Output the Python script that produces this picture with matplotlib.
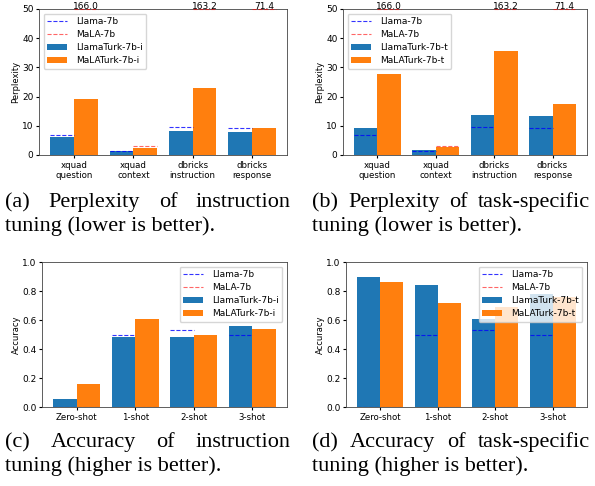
import matplotlib
matplotlib.use("Agg")
import matplotlib.pyplot as plt
import numpy as np

W, H = 595, 486

ppl_categories = ["xquad\nquestion", "xquad\ncontext", "dbricks\ninstruction", "dbricks\nresponse"]
acc_categories = ["Zero-shot", "1-shot", "2-shot", "3-shot"]

llama_ppl = [6.8, 1.5, 9.6, 9.1]
mala_ppl = [166.0, 3.0, 163.2, 71.4]
llamaturk_i_ppl = [6.3, 1.5, 8.3, 7.9]
malaturk_i_ppl = [19.3, 2.3, 22.8, 9.1]
llamaturk_t_ppl = [9.2, 1.6, 13.7, 13.2]
malaturk_t_ppl = [27.7, 2.6, 35.6, 17.6]

llama_acc = [0.0, 0.50, 0.53, 0.50]
mala_acc = [0.0, 0.0, 0.0, 0.0]
llamaturk_i_acc = [0.055, 0.48, 0.48, 0.56]
malaturk_i_acc = [0.16, 0.61, 0.50, 0.54]
llamaturk_t_acc = [0.90, 0.84, 0.61, 0.78]
malaturk_t_acc = [0.86, 0.72, 0.69, 0.76]

captions = [
    ("(a) Perplexity of instruction", "tuning (lower is better)."),
    ("(b) Perplexity of task-specific", "tuning (lower is better)."),
    ("(c) Accuracy of instruction", "tuning (higher is better)."),
    ("(d) Accuracy of task-specific", "tuning (higher is better)."),
]

fig = plt.figure(figsize=(W / 100, H / 100), dpi=100)


def px_axes(l, r, t, b):
    return fig.add_axes([l / W, 1 - b / H, (r - l) / W, (b - t) / H])


def panel(ax, cats, base1, base2, turk1, turk2, suffix, ylim, yticks, ylabel, loc, annotate):
    x = np.arange(len(cats))
    w = 0.4
    b1 = ax.bar(x - w / 2, turk1, w, color="#1f77b4", label="LlamaTurk-7b-" + suffix)
    b2 = ax.bar(x + w / 2, turk2, w, color="#ff7f0e", label="MaLATurk-7b-" + suffix)
    top = ylim[1]
    v1 = [min(v, top) for v in base1]
    v2 = [min(v, top) for v in base2]
    l1 = ax.hlines(v1, x - w, x, colors="blue", linestyles="--", linewidth=0.8, alpha=0.8,
                   label="Llama-7b", zorder=3)
    l2 = ax.hlines(v2, x, x + w, colors="red", linestyles="--", linewidth=0.8, alpha=0.6,
                   label="MaLA-7b", zorder=3)
    if annotate:
        for xi, v in zip(x, base2):
            if v > top:
                ax.text(xi + w / 2, top, f"{v:.1f}", ha="center", va="baseline", fontsize=6.5,
                        clip_on=False)
    ax.set_ylim(*ylim)
    ax.set_yticks(yticks)
    ax.set_xticks(x)
    ax.set_xticklabels(cats, fontsize=6.2)
    ax.tick_params(axis="y", labelsize=6.5, length=2.5, pad=1.5)
    ax.tick_params(axis="x", length=2.5, pad=1.5)
    ax.set_ylabel(ylabel, fontsize=6, labelpad=1)
    for s in ax.spines.values():
        s.set_linewidth(0.6)
        s.set_color("#444444")
    ax.legend(handles=[l1, l2, b1, b2], loc=loc, fontsize=6.5, handlelength=2.2,
              borderpad=0.4, labelspacing=0.45, handletextpad=1.0, framealpha=0.8)


ax_a = px_axes(39, 287, 9, 155)
panel(ax_a, ppl_categories, llama_ppl, mala_ppl, llamaturk_i_ppl, malaturk_i_ppl, "i",
      (0, 50), [0, 10, 20, 30, 40, 50], "Perplexity", "upper left", True)
ax_b = px_axes(343, 587, 9, 155)
panel(ax_b, ppl_categories, llama_ppl, mala_ppl, llamaturk_t_ppl, malaturk_t_ppl, "t",
      (0, 50), [0, 10, 20, 30, 40, 50], "Perplexity", "upper left", True)
ax_c = px_axes(42, 287, 262, 407)
panel(ax_c, acc_categories, llama_acc, mala_acc, llamaturk_i_acc, malaturk_i_acc, "i",
      (0, 1.0), [0.0, 0.2, 0.4, 0.6, 0.8, 1.0], "Accuracy", "upper right", False)
ax_d = px_axes(346, 587, 262, 407)
panel(ax_d, acc_categories, llama_acc, mala_acc, llamaturk_t_acc, malaturk_t_acc, "t",
      (0, 1.0), [0.0, 0.2, 0.4, 0.6, 0.8, 1.0], "Accuracy", "upper right", False)

# captions (justified first line)
cap_font = dict(family=["Liberation Serif", "DejaVu Serif"], fontsize=16)
cap_pos = [(5, 291, 207, 231), (312, 590, 207, 231), (5, 291, 447, 471), (312, 590, 447, 471)]
renderer = fig.canvas.get_renderer()
for (line1, line2), (xl, xr, y1, y2) in zip(captions, cap_pos):
    words = line1.split(" ")
    texts = [fig.text(0, 1 - y1 / H, wd, va="baseline", ha="left", **cap_font) for wd in words]
    widths = [t.get_window_extent(renderer).width for t in texts]
    gap = ((xr - xl) - sum(widths)) / (len(words) - 1)
    xpos = xl
    for t, wdt in zip(texts, widths):
        t.set_x(xpos / W)
        xpos += wdt + gap
    fig.text(xl / W, 1 - y2 / H, line2, va="baseline", ha="left", **cap_font)

fig.savefig("out.png", dpi=100)
